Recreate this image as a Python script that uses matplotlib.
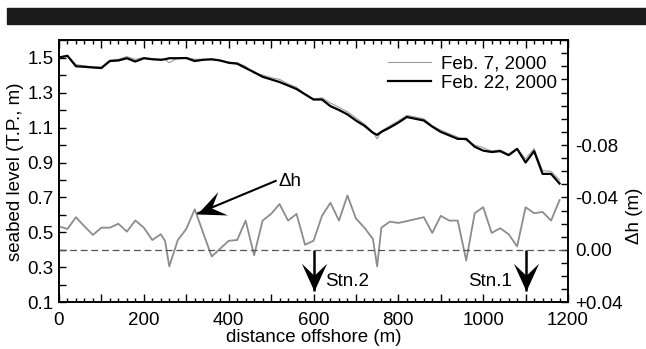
import numpy as np
import matplotlib.pyplot as plt
from matplotlib.patches import Rectangle
from matplotlib.path import Path
from matplotlib.markers import MarkerStyle
from matplotlib.transforms import Affine2D
from matplotlib.ticker import MultipleLocator, FixedLocator, FixedFormatter, FuncFormatter

# ---------------- DATA ----------------
distance = [0, 20, 40, 60, 80, 100, 120, 140, 160, 180, 200, 220, 240, 250, 260,
            280, 300, 320, 340, 360, 380, 400, 420, 440, 460, 480, 500, 520, 540,
            560, 580, 600, 620, 640, 660, 680, 700, 720, 740, 750, 760, 780, 800,
            820, 840, 860, 880, 900, 920, 940, 960, 980, 1000, 1020, 1040, 1060,
            1080, 1100, 1120, 1140, 1160, 1180]

feb07 = [1.505, 1.51, 1.46, 1.452, 1.447, 1.445, 1.485, 1.49, 1.505, 1.49, 1.50,
         1.493, 1.49, 1.49, 1.47, 1.497, 1.50, 1.49, 1.49, 1.488, 1.483, 1.473,
         1.47, 1.45, 1.41, 1.40, 1.385, 1.375, 1.35, 1.33, 1.29, 1.262, 1.27,
         1.24, 1.215, 1.19, 1.155, 1.12, 1.075, 1.035, 1.08, 1.11, 1.138, 1.17,
         1.16, 1.15, 1.11, 1.085, 1.065, 1.045, 1.025, 1.00, 0.985, 0.965, 0.972,
         0.948, 0.98, 0.92, 0.98, 0.853, 0.85, 0.80]

feb22 = [1.50, 1.51, 1.45, 1.447, 1.443, 1.44, 1.48, 1.483, 1.496, 1.477, 1.496,
         1.49, 1.487, 1.49, 1.496, 1.496, 1.497, 1.48, 1.487, 1.49, 1.483, 1.47,
         1.465, 1.44, 1.416, 1.39, 1.375, 1.36, 1.34, 1.32, 1.29, 1.26, 1.26,
         1.222, 1.20, 1.175, 1.14, 1.11, 1.07, 1.058, 1.075, 1.10, 1.128, 1.16,
         1.15, 1.14, 1.105, 1.075, 1.055, 1.035, 1.035, 0.99, 0.968, 0.96, 0.965,
         0.942, 0.978, 0.90, 0.965, 0.835, 0.835, 0.78]

dh = [-0.018, -0.016, -0.025, -0.018, -0.0115, -0.017, -0.017, -0.020, -0.014,
      -0.0225, -0.017, -0.0076, -0.012, -0.007, 0.0125, -0.0075, -0.016, -0.031,
      -0.013, 0.005, -0.001, -0.007, -0.0076, -0.0224, 0.004, -0.0224, -0.0275,
      -0.035, -0.0224, -0.0275, -0.004, -0.007, -0.026, -0.036, -0.0224, -0.0415,
      -0.024, -0.017, -0.0084, 0.0125, -0.017, -0.0216, -0.0206, -0.022, -0.0235,
      -0.025, -0.013, -0.026, -0.0224, -0.0224, 0.008, -0.028, -0.0326, -0.013,
      -0.0166, -0.012, -0.0028, -0.0326, -0.028, -0.029, -0.0224, -0.038]

left_ticks = [0.1, 0.3, 0.5, 0.7, 0.9, 1.1, 1.3, 1.5]
right_ticks = [-0.08, -0.04, 0.0, 0.04]
right_labels = ["-0.08", "-0.04", "0.00", "+0.04"]

station_names = ["Stn.2", "Stn.1"]
station_pos = [600, 1100]

# ---------------- STYLE ----------------
plt.rcParams['font.family'] = ['Liberation Sans', 'DejaVu Sans']
plt.rcParams['font.size'] = 13.5
gray = "#8c8c8c"

fig = plt.figure(figsize=(6.46, 3.49), dpi=100, facecolor='white')

# black bar across the top
fig.patches.append(Rectangle((7 / 646, 1 - 24 / 349), 1, 16 / 349,
                             transform=fig.transFigure, color='#1c1c1c'))

ax = fig.add_axes([0.0913, 0.1333, 0.788, 0.752])
ax.plot(distance, feb07, color='#9a9a9a', lw=0.8, label='Feb. 7, 2000')
ax.plot(distance, feb22, color='black', lw=1.6, label='Feb. 22, 2000')
ax.set_xlim(0, 1200)
ax.set_ylim(0.1, 1.6)

ax.xaxis.set_major_locator(MultipleLocator(100))
ax.xaxis.set_major_formatter(FuncFormatter(lambda v, p: f"{int(v)}" if v % 200 == 0 else ""))
ax.xaxis.set_minor_locator(MultipleLocator(20))
ax.yaxis.set_major_locator(FixedLocator(left_ticks))
ax.yaxis.set_minor_locator(MultipleLocator(0.1))
ax.tick_params(axis='x', which='both', direction='in', top=True, bottom=True, width=1, pad=7)
ax.tick_params(axis='x', which='major', length=5.5)
ax.tick_params(axis='x', which='minor', length=3)
ax.tick_params(axis='y', which='both', direction='in', left=True, right=False,
               length=5, width=1, pad=4)
for s in ax.spines.values():
    s.set_linewidth(1.2)

ax.set_xlabel("distance offshore (m)", labelpad=0)
ax.set_ylabel("seabed level (T.P., m)", labelpad=2)

ax.legend(loc='upper right', bbox_to_anchor=(1.0, 0.985), frameon=False,
          handlelength=2.3, handletextpad=0.5, labelspacing=0.1, borderaxespad=0.2)

# ---------------- RIGHT AXIS: change in level ----------------
ax2 = ax.twinx()
ax2.plot(distance, dh, color=gray, lw=1.3)
ax2.axhline(0, color='#555555', lw=0.9, ls=(0, (5.5, 3)))
ax2.set_ylim(0.04, -0.16)
ax2.yaxis.set_major_locator(FixedLocator(right_ticks))
ax2.yaxis.set_major_formatter(FixedFormatter(right_labels))
ax2.yaxis.set_minor_locator(MultipleLocator(0.01))
ax2.tick_params(axis='y', which='both', direction='in', right=True, left=False,
                length=5, width=1, pad=5)
for s in ax2.spines.values():
    s.set_linewidth(1.2)
ax2.text(1.13, 0.332, "Δh (m)", transform=ax2.transAxes, rotation=90,
         ha='center', va='center')

# ---------------- ANNOTATIONS ----------------
# barbed arrow head, tip at the origin, pointing down
head_path = Path([(0, 0), (-0.5, 1.1), (0, 0.62), (0.5, 1.1), (0, 0)],
                 [Path.MOVETO, Path.LINETO, Path.LINETO, Path.LINETO, Path.CLOSEPOLY])


def draw_arrow(tail, tip, lw=1.8, size=40):
    p0 = ax.transData.transform(tail)
    p1 = ax.transData.transform(tip)
    ang = np.degrees(np.arctan2(p1[1] - p0[1], p1[0] - p0[0])) + 90
    ax.plot([tail[0], tip[0]], [tail[1], tip[1]], color='black', lw=lw,
            solid_capstyle='butt')
    mk = MarkerStyle(head_path, transform=Affine2D().rotate_deg(ang))
    ax.plot([tip[0]], [tip[1]], marker=mk, ms=size, color='black', mew=0)


draw_arrow((513, 0.797), (325, 0.607), lw=1.5, size=40)
ax.text(545, 0.79, "Δh", ha='center', va='center')

for xpos in station_pos:
    draw_arrow((xpos, 0.4), (xpos, 0.165))
ax.text(627, 0.22, station_names[0], ha='left', va='center')
ax.text(1067, 0.22, station_names[1], ha='right', va='center')

plt.savefig("out.png", dpi=100, facecolor='white')
plt.close()
